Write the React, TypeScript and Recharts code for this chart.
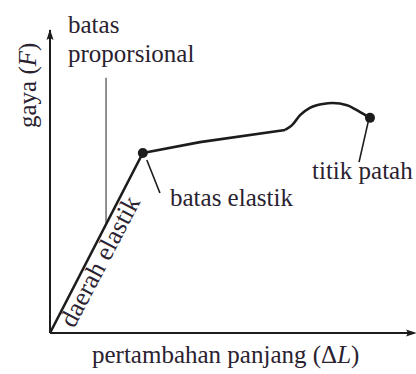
import React from 'react';
import { ComposedChart, Line, XAxis, YAxis, Scatter, ReferenceLine } from 'recharts';

// Elastic region (straight line from origin to the elastic limit)
const elasticX = [0, 25.5];
const elasticY = [0, 59.4];
// Plastic region up to the start of necking
const plasticX = [25.5, 41.2, 64.6];
const plasticY = [59.4, 63.0, 67.0];
// Strain hardening / necking to fracture
const neckX = [64.6, 66.5, 68.7, 71.4, 75.0, 77.7, 81.6, 85.2, 87.9];
const neckY = [67.0, 68.6, 71.9, 74.3, 75.6, 75.9, 75.2, 72.9, 71.0];
// Marked points: batas elastik, titik patah
const markerX = [25.5, 87.9];
const markerY = [59.4, 71.0];
// Proportional limit marker line
const propX = [15.4, 15.4];
const propY = [36.3, 84.2];
// Leader lines
const leaderElasticX = [26.6, 30.2];
const leaderElasticY = [57.1, 46.2];
const leaderBreakX = [87.4, 84.9];
const leaderBreakY = [69.6, 56.4];
// Axis arrow tips
const arrowX = [100, 0];
const arrowY = [0, 100];
const arrowDir = ['right', 'up'];

const zip = (xs: number[], ys: number[]) => xs.map((x, i) => ({ x, y: ys[i] }));

const INK = '#1c1c1c';
const TEXT = '#2a2230';
const FONT = '"Liberation Serif", "DejaVu Serif", serif';

const Arrow = (props: any) => {
  const { cx, cy, payload } = props;
  if (payload.dir === 'right') {
    return <path d={`M ${cx + 3} ${cy} L ${cx - 8} ${cy - 3.5} L ${cx - 6} ${cy} L ${cx - 8} ${cy + 3.5} Z`} fill={INK} />;
  }
  return <path d={`M ${cx} ${cy - 1} L ${cx - 3.5} ${cy + 10} L ${cx} ${cy + 8} L ${cx + 3.5} ${cy + 10} Z`} fill={INK} />;
};

const Dot = (props: any) => <circle cx={props.cx} cy={props.cy} r={5} fill={INK} />;

export default function App() {
  const angle = -62.3;
  return (
    <div style={{ position: 'absolute', left: 0, top: 0, width: 416, height: 374, background: '#fff' }}>
      <ComposedChart
        width={416}
        height={374}
        margin={{ top: 30, right: 2, left: 49, bottom: 40 }}
      >
        <XAxis
          type="number"
          dataKey="x"
          domain={[0, 100]}
          tick={false}
          tickLine={false}
          height={1}
          axisLine={{ stroke: INK, strokeWidth: 2 }}
        />
        <YAxis
          type="number"
          dataKey="y"
          domain={[0, 100]}
          tick={false}
          tickLine={false}
          width={1}
          axisLine={{ stroke: INK, strokeWidth: 2 }}
        />
        <ReferenceLine
          segment={zip(propX, propY)}
          stroke="#555"
          strokeWidth={1.3}
          ifOverflow="visible"
        />
        <ReferenceLine
          segment={zip(leaderElasticX, leaderElasticY)}
          stroke={INK}
          strokeWidth={1.6}
          ifOverflow="visible"
        />
        <ReferenceLine
          segment={zip(leaderBreakX, leaderBreakY)}
          stroke={INK}
          strokeWidth={1.6}
          ifOverflow="visible"
        />
        <Line
          data={zip(elasticX, elasticY)}
          dataKey="y"
          type="linear"
          stroke={INK}
          strokeWidth={2.6}
          dot={false}
          activeDot={false}
          isAnimationActive={false}
        />
        <Line
          data={zip(plasticX, plasticY)}
          dataKey="y"
          type="linear"
          stroke={INK}
          strokeWidth={2.6}
          dot={false}
          activeDot={false}
          isAnimationActive={false}
        />
        <Line
          data={zip(neckX, neckY)}
          dataKey="y"
          type="monotone"
          stroke={INK}
          strokeWidth={2.6}
          dot={false}
          activeDot={false}
          isAnimationActive={false}
        />
        <Scatter data={zip(markerX, markerY)} shape={Dot} isAnimationActive={false} />
        <Scatter
          data={arrowX.map((x, i) => ({ x, y: arrowY[i], dir: arrowDir[i] }))}
          shape={Arrow}
          isAnimationActive={false}
        />
      </ComposedChart>
      <svg
        width={416}
        height={374}
        style={{ position: 'absolute', left: 0, top: 0, pointerEvents: 'none' }}
        fontFamily={FONT}
        fontSize={25}
        fill={TEXT}
      >
        <text x={68} y={33}>batas</text>
        <text x={68} y={62}>proporsional</text>
        <text x={170} y={206}>batas elastik</text>
        <text x={312} y={179}>titik patah</text>
        <text x={74} y={329} fontSize={26} transform={`rotate(${angle} 74 329)`}>daerah elastik</text>
        <text x={92} y={363}>
          pertambahan panjang (Δ<tspan fontStyle="italic">L</tspan>)
        </text>
        <text x={36} y={128} transform="rotate(-90 36 128)">
          gaya (<tspan fontStyle="italic">F</tspan>)
        </text>
      </svg>
    </div>
  );
}
